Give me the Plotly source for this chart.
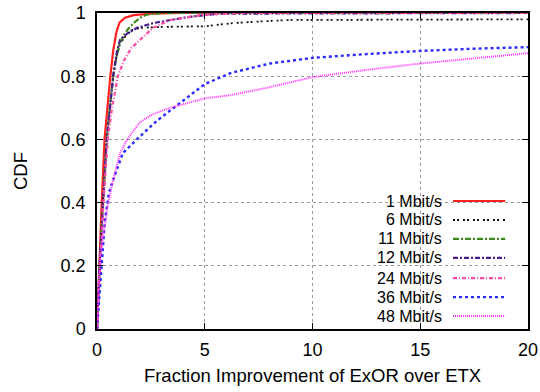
import plotly.graph_objects as go

# CDF of the fractional throughput improvement of ExOR over ETX, per bit rate
x_1 = [0, 0.1, 0.22, 0.35, 0.5, 0.62, 0.75, 0.9, 1.05, 1.3, 1.7, 2.5, 4, 20]
cdf_1 = [0, 0.2, 0.4, 0.6, 0.72, 0.8, 0.88, 0.94, 0.97, 0.985, 0.993, 0.998, 1, 1]

x_6 = [0, 0.12, 0.28, 0.45, 0.6, 0.75, 0.9, 1.05, 1.3, 1.6, 2.0, 3.0, 5.0, 5.8, 6.3, 7.5, 9, 20]
cdf_6 = [0, 0.2, 0.4, 0.6, 0.7, 0.8, 0.86, 0.9, 0.925, 0.945, 0.953, 0.956, 0.958,
         0.963, 0.968, 0.973, 0.978, 0.98]

x_11 = [0, 0.12, 0.28, 0.45, 0.6, 0.75, 0.9, 1.05, 1.2, 1.45, 1.7, 2.0, 2.3, 3, 20]
cdf_11 = [0, 0.2, 0.4, 0.6, 0.7, 0.8, 0.86, 0.9, 0.925, 0.95, 0.968, 0.985, 0.995, 1, 1]

x_12 = [0, 0.12, 0.28, 0.45, 0.6, 0.75, 0.9, 1.07, 1.4, 1.86, 2.6, 3.4, 4.2, 5.7, 20]
cdf_12 = [0, 0.2, 0.4, 0.6, 0.7, 0.8, 0.87, 0.915, 0.935, 0.953, 0.968, 0.978, 0.987, 0.998, 1]

x_24 = [0, 0.14, 0.3, 0.5, 0.7, 0.97, 1.25, 1.6, 2.0, 2.6, 3.4, 4.9, 6.5, 20]
cdf_24 = [0, 0.2, 0.4, 0.6, 0.7, 0.8, 0.85, 0.89, 0.915, 0.953, 0.978, 0.994, 1, 1]

x_36 = [0, 0.1, 0.2, 0.37, 0.55, 0.74, 1.2, 1.6, 2.0, 2.8, 3.4, 3.85, 5, 6.2, 8, 10, 12.5, 15, 17.5, 20]
cdf_36 = [0, 0.1, 0.2, 0.345, 0.43, 0.47, 0.557, 0.585, 0.61, 0.66, 0.69, 0.715, 0.775,
          0.81, 0.84, 0.858, 0.87, 0.88, 0.887, 0.892]

x_48 = [0, 0.14, 0.3, 0.5, 0.74, 1.07, 1.4, 2.0, 2.6, 3.4, 4.2, 5, 6.2, 8, 10, 12.5, 15, 17.5, 20]
cdf_48 = [0, 0.23, 0.3, 0.39, 0.47, 0.557, 0.6, 0.655, 0.68, 0.70, 0.715, 0.73, 0.74,
          0.765, 0.797, 0.82, 0.84, 0.857, 0.873]

labels = ["1 Mbit/s", "6 Mbit/s", "11 Mbit/s", "12 Mbit/s", "24 Mbit/s", "36 Mbit/s", "48 Mbit/s"]
xs = [x_1, x_6, x_11, x_12, x_24, x_36, x_48]
ys = [cdf_1, cdf_6, cdf_11, cdf_12, cdf_24, cdf_36, cdf_48]

styles = [
    dict(color="#ff2020", width=2.2, dash="solid"),
    dict(color="#111111", width=1.8, dash="2px,2px,2px,4px"),
    dict(color="#3f8a1e", width=2.2, dash="6px,2px,2px,2px"),
    dict(color="#4a1c8e", width=2.2, dash="5px,2px,2px,2px"),
    dict(color="#ff4aa6", width=2.2, dash="4px,2px,1px,2px"),
    dict(color="#2a2aff", width=2.4, dash="3px,3px"),
    dict(color="#ff33ff", width=2.0, dash="1px,1px"),
]

FONT = "Liberation Sans, Arial, sans-serif"

fig = go.Figure()
for lab, xv, yv, st in zip(labels, xs, ys, styles):
    fig.add_trace(go.Scatter(x=xv, y=yv, mode="lines", name=lab, line=st,
                             showlegend=False))

# Key in the lower right: right-aligned labels followed by line samples
key_y = [0.405, 0.345, 0.285, 0.225, 0.161, 0.101, 0.041]
for lab, st, ky in zip(labels, styles, key_y):
    fig.add_annotation(x=0.803, y=ky, xref="paper", yref="paper", text=lab,
                       showarrow=False, xanchor="right", yanchor="middle",
                       borderpad=0,
                       font=dict(family=FONT, size=16, color="black"))
    fig.add_shape(type="line", xref="paper", yref="paper", x0=0.826, x1=0.947,
                  y0=ky, y1=ky, line=st)

axis_common = dict(
    showline=True, linecolor="black", linewidth=1.5, mirror="ticks",
    ticks="inside", ticklen=6, tickcolor="black", tickwidth=1,
    showgrid=True, gridcolor="#9a9a9a", griddash="dot", gridwidth=1,
    zeroline=False, automargin=False,
    tickfont=dict(family=FONT, size=18, color="black"),
)

fig.update_xaxes(range=[0, 20], tickvals=[0, 5, 10, 15, 20], ticklabelstandoff=4,
                 title=dict(text="Fraction Improvement of ExOR over ETX",
                            font=dict(family=FONT, size=18.5, color="black"), standoff=10),
                 **axis_common)
fig.update_yaxes(range=[0, 1], tickvals=[0, 0.2, 0.4, 0.6, 0.8, 1],
                 ticktext=["0", "0.2", "0.4", "0.6", "0.8", "1"], ticklabelstandoff=6,
                 title=dict(text="CDF", font=dict(family=FONT, size=18.5, color="black"),
                            standoff=28),
                 **axis_common)

fig.update_layout(
    width=540, height=392,
    margin=dict(l=97, r=12, t=13, b=63),
    plot_bgcolor="white", paper_bgcolor="white",
)

fig.write_html("out.html")
